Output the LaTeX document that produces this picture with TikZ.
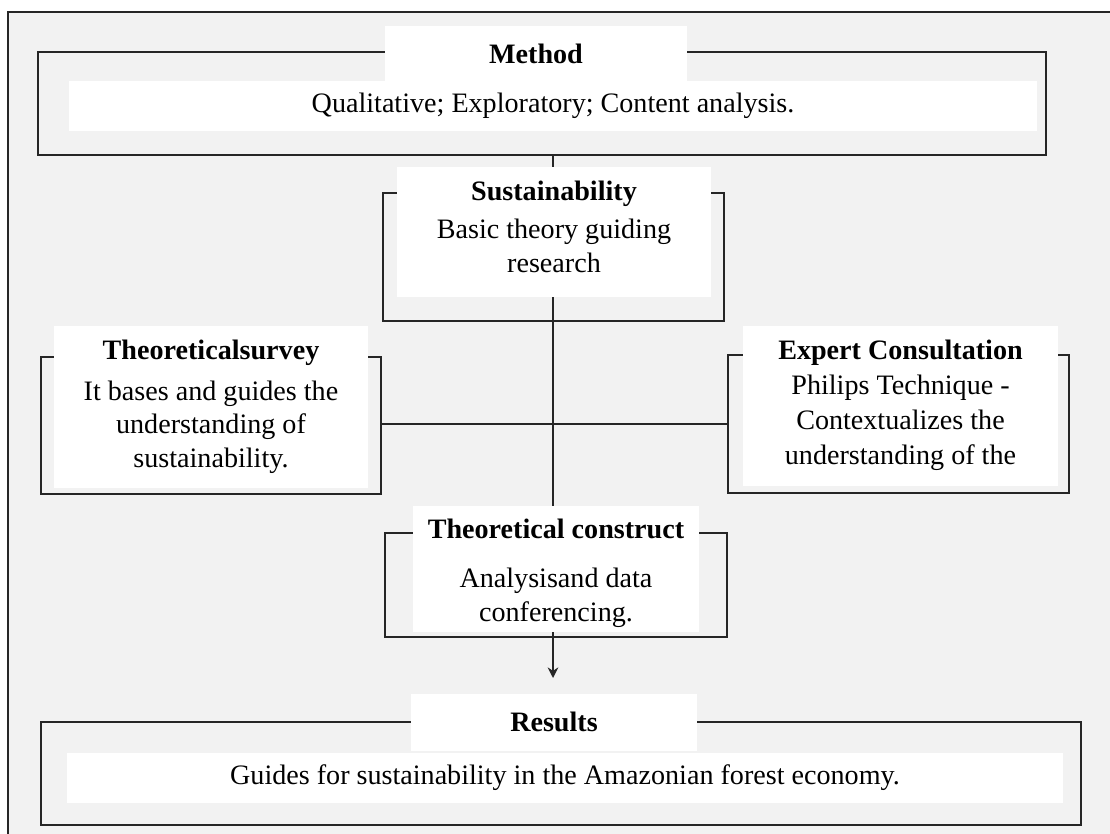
\documentclass[tikz,border=0pt]{standalone}
\usepackage{fontspec}
\setmainfont{Liberation Serif}
\usetikzlibrary{arrows.meta, positioning, calc}
\definecolor{panelgray}{HTML}{F2F2F2}
\definecolor{linegray}{HTML}{262626}

\tikzset{
  wd/.style={minimum width=#1*0.015cm},
  ht/.style={minimum height=#1*0.015cm},
  frame/.style={draw=linegray, line width=0.9pt, inner sep=0pt},
  whitebox/.style={fill=white, inner sep=0pt, align=center, font=\fontsize{12}{14.3}\selectfont},
  textblock/.style={inner sep=0pt, align=center, font=\fontsize{12}{14.3}\selectfont},
  link/.style={draw=linegray, line width=0.9pt},
}

\begin{document}
\begin{tikzpicture}[x=0.015cm, y=-0.015cm, >={Stealth[length=4.5pt, width=4.5pt]}]
  \useasboundingbox (0,0) rectangle (1110,834);
  \clip (0,0) rectangle (1110,834);
  \fill[white] (0,0) rectangle (1110,834);
  \draw[frame, fill=panelgray] (8,12) rectangle (1130,850);

  % === METHOD ===
  \node[frame, wd=1008, ht=103] (methodframe) at (542,103.5) {};
  \node[whitebox, wd=302, ht=55] (methodtitle) at (536,53.5) {\textbf{Method}};
  \node[whitebox, wd=968, ht=50] (methodtext) at (553,106) {Qualitative; Exploratory; Content analysis.};

  % === SUSTAINABILITY ===
  \node[frame, wd=341, ht=128] (sustframe) at (553.5,257) {};
  \node[whitebox, wd=314, ht=130] (sustbox) at (554,232) {};
  \node[textblock] (susttext) at (554,227) {\textbf{Sustainability}\\[2pt]Basic theory guiding\\research};

  % === SURVEY / EXPERT ===
  \node[frame, wd=340, ht=137] (surveyframe) at (211,425.5) {};
  \node[whitebox, wd=314, ht=162] (surveybox) at (211,407) {\textbf{Theoreticalsurvey}\\[3pt]It bases and guides the\\understanding of\\sustainability.};

  \node[frame, wd=341, ht=138] (expertframe) at (898.5,424) {};
  \node[whitebox, wd=315, ht=160] (expertbox) at (900.5,406) {};
  \node[textblock, font=\fontsize{12}{15}\selectfont] (experttext) at (900.5,405) {\textbf{Expert Consultation}\\Philips Technique -\\Contextualizes the\\understanding of the};

  % === CONSTRUCT ===
  \node[frame, wd=342, ht=104] (constrframe) at (556,585) {};
  \node[whitebox, wd=286, ht=126] (constrbox) at (556,569) {};
  \node[textblock] (constrtext) at (556,573) {\textbf{Theoretical construct}\\[7pt]Analysisand data\\conferencing.};

  % === RESULTS ===
  \node[frame, wd=1040, ht=103] (resultsframe) at (561,773.5) {};
  \node[whitebox, wd=286, ht=57] (resultstitle) at (554,722) {\textbf{Results}};
  \node[whitebox, wd=996, ht=50] (resultstext) at (565,778) {Guides for sustainability in the Amazonian forest economy.};

  % Links
  \coordinate (spine) at (553,0);
  \coordinate (arrowend) at (553,678);
  \draw[link] (methodframe.south -| spine) -- (sustbox.north -| spine);
  \draw[link] (sustbox.south -| spine) -- (constrbox.north -| spine);
  \draw[link] (surveyframe.east |- expertframe.west) -- (expertframe.west);
  \draw[link, ->] (constrbox.south -| spine) -- (arrowend);
\end{tikzpicture}
\end{document}
